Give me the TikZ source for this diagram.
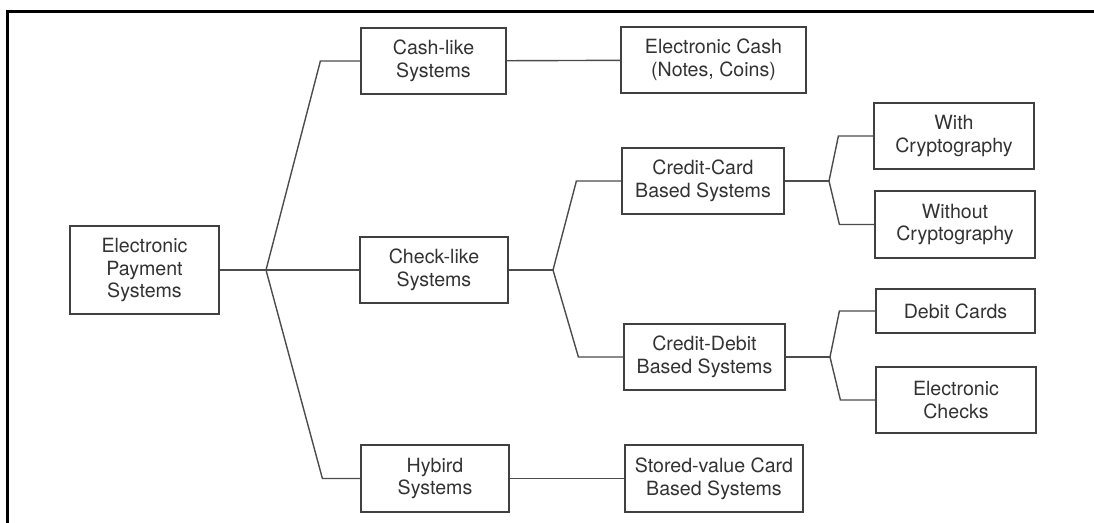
\documentclass[tikz,border=0pt]{standalone}
\usepackage{fontspec}
\setmainfont{TeX Gyre Heros}
\usepackage{tikz}
\usetikzlibrary{positioning, calc}

\tikzset{
    box/.style={rectangle,draw=black!75,line width=0.6pt,text=black!80,align=center,
        font=\fontsize{9.8}{11.4}\selectfont,inner sep=0pt},
    link/.style={draw=black!70,line width=0.7pt}
}

\begin{document}
\begin{tikzpicture}[x=0.5pt,y=-0.5pt]
    \useasboundingbox (0,0) rectangle (1094,523);
    \fill[white] (0,0) rectangle (1094,523);
    % Cornice
    \draw[line width=1.5pt] (7,523) -- (7,12) -- (1094,12);

    % Radice
    \node[box,minimum width=74.5pt,minimum height=44pt] (eps) at (144.5,270) {Electronic\\Payment\\Systems};

    % Primo livello
    \node[box,minimum width=72.5pt,minimum height=33pt] (cash) at (433.5,61) {Cash-like\\Systems};
    \node[box,minimum width=74pt,minimum height=33pt] (check) at (434,270) {Check-like\\Systems};
    \node[box,minimum width=74pt,minimum height=33.5pt] (hybrid) at (435,478.5) {Hybird\\Systems};

    % Secondo livello
    \node[box,minimum width=92.5pt,minimum height=33pt] (ecash) at (713.5,60) {Electronic Cash\\(Notes, Coins)};
    \node[box,minimum width=81pt,minimum height=33pt] (ccard) at (703,181) {Credit-Card\\Based Systems};
    \node[box,minimum width=80.5pt,minimum height=33pt] (cdebit) at (704.5,357) {Credit-Debit\\Based Systems};
    \node[box,minimum width=89pt,minimum height=33.5pt] (stored) at (714,478.5) {Stored-value Card\\Based Systems};

    % Terzo livello
    \node[box,minimum width=80pt,minimum height=33pt] (withc) at (954,136) {With\\Cryptography};
    \node[box,minimum width=80pt,minimum height=33.5pt] (withoutc) at (955,224.5) {Without\\Cryptography};
    \node[box,minimum width=79.5pt,minimum height=22pt] (debit) at (955.5,311) {Debit Cards};
    \node[box,minimum width=80pt,minimum height=33pt] (echecks) at (956,400) {Electronic\\Checks};

    % Diramazioni
    \coordinate (j1) at (266,270);
    \coordinate (j2) at (553,270);
    \coordinate (j3) at (829,181);
    \coordinate (j4) at (830,357);

    \draw[link] (eps) -- (j1) -- (check);
    \draw[link] (j1) -- ($(cash.west)+(-40,0)$) -- (cash.west);
    \draw[link] (j1) -- ($(hybrid.west)+(-38,0)$) -- (hybrid.west);
    \draw[link] (cash) -- (ecash);
    \draw[link] (hybrid) -- (stored);

    \draw[link] (check) -- (j2);
    \draw[link] (j2) -- ($(ccard.west)+(-45,0)$) -- (ccard.west);
    \draw[link] (j2) -- ($(cdebit.west)+(-45,0)$) -- (cdebit.west);

    \draw[link] (ccard) -- (j3);
    \draw[link] (j3) -- ($(withc.west)+(-35,0)$) -- (withc.west);
    \draw[link] (j3) -- ($(withoutc.west)+(-35,0)$) -- (withoutc.west);

    \draw[link] (cdebit) -- (j4);
    \draw[link] (j4) -- ($(debit.west)+(-36,0)$) -- (debit.west);
    \draw[link] (j4) -- ($(echecks.west)+(-35,0)$) -- (echecks.west);
\end{tikzpicture}
\end{document}
